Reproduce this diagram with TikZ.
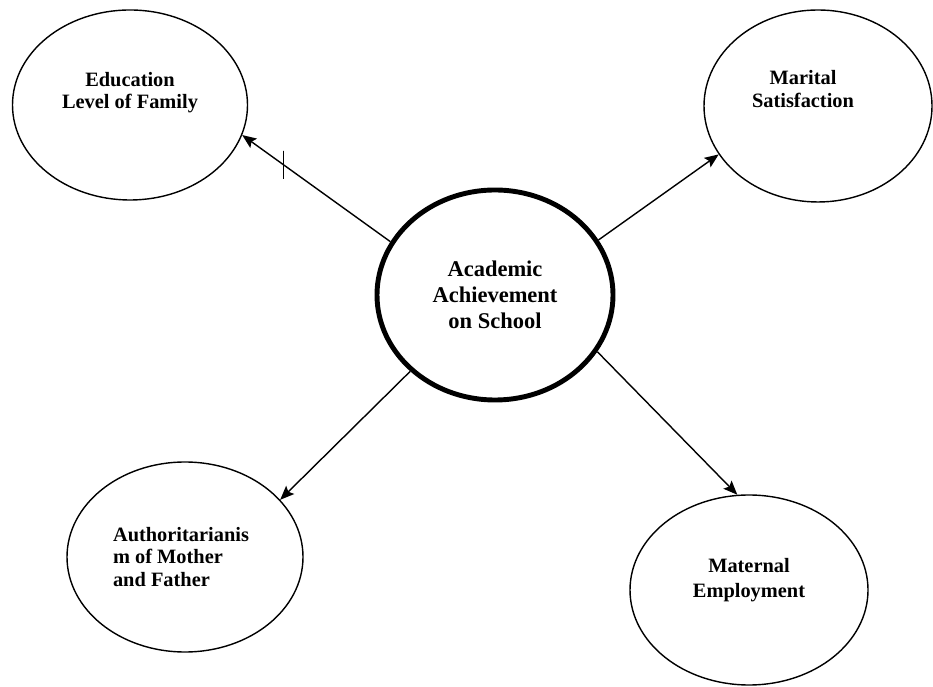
\documentclass[tikz,border=0pt]{standalone}
\usepackage{fontspec}
\setmainfont{Liberation Serif}
\usetikzlibrary{shapes.geometric, arrows.meta, positioning}

\begin{document}
\begin{tikzpicture}[
    factor/.style={ellipse, draw=black, thick, minimum width=4.7cm, minimum height=3.8cm},
    core/.style={ellipse, draw=black, line width=2.8pt, minimum width=4.72cm, minimum height=4.2cm, align=center, font=\bfseries\fontsize{12.8}{14.7}\selectfont},
    caption/.style={align=center, font=\bfseries\fontsize{11.6}{12.6}\selectfont},
    arrow/.style={thick,->,>={Stealth[length=8pt,width=6.5pt,inset=1.5pt]}},
    tick/.style={draw=black, thick, inner sep=0pt, minimum width=0pt, minimum height=0.56cm}
]
\useasboundingbox (0,0) rectangle (18.66,13.72);

% Centre
\node[core] (achieve) at (9.9,7.82) {Academic\\Achievement\\on School};

% Factors
\node[factor, label={[caption, yshift=0.24cm]center:{Education\\Level of Family}}] (edu) at (2.6,11.62) {};
\node[factor, minimum width=4.56cm, minimum height=3.84cm, label={[caption, xshift=-0.3cm, yshift=0.34cm]center:{Marital\\Satisfaction}}] (marital) at (16.36,11.6) {};
\node[factor, minimum width=4.72cm, label={[caption, align=left, xshift=-0.08cm, font=\bfseries\fontsize{11.6}{13}\selectfont]center:{Authoritarianis\\m of Mother\\and Father}}] (auth) at (3.7,2.58) {};
\node[factor, minimum width=4.76cm, label={[caption, yshift=0.2cm, font=\bfseries\fontsize{11.6}{14}\selectfont]center:{Maternal\\Employment}}] (maternal) at (14.98,1.92) {};

% Arrows
\draw[arrow] (achieve.153) -- node[tick, pos=0.72] {} (edu.-15);
\draw[arrow] (achieve.28) -- (marital.206);
\draw[arrow] (achieve.222) -- (auth.31);
\draw[arrow] (achieve.331) -- (maternal.97);

\end{tikzpicture}
\end{document}
